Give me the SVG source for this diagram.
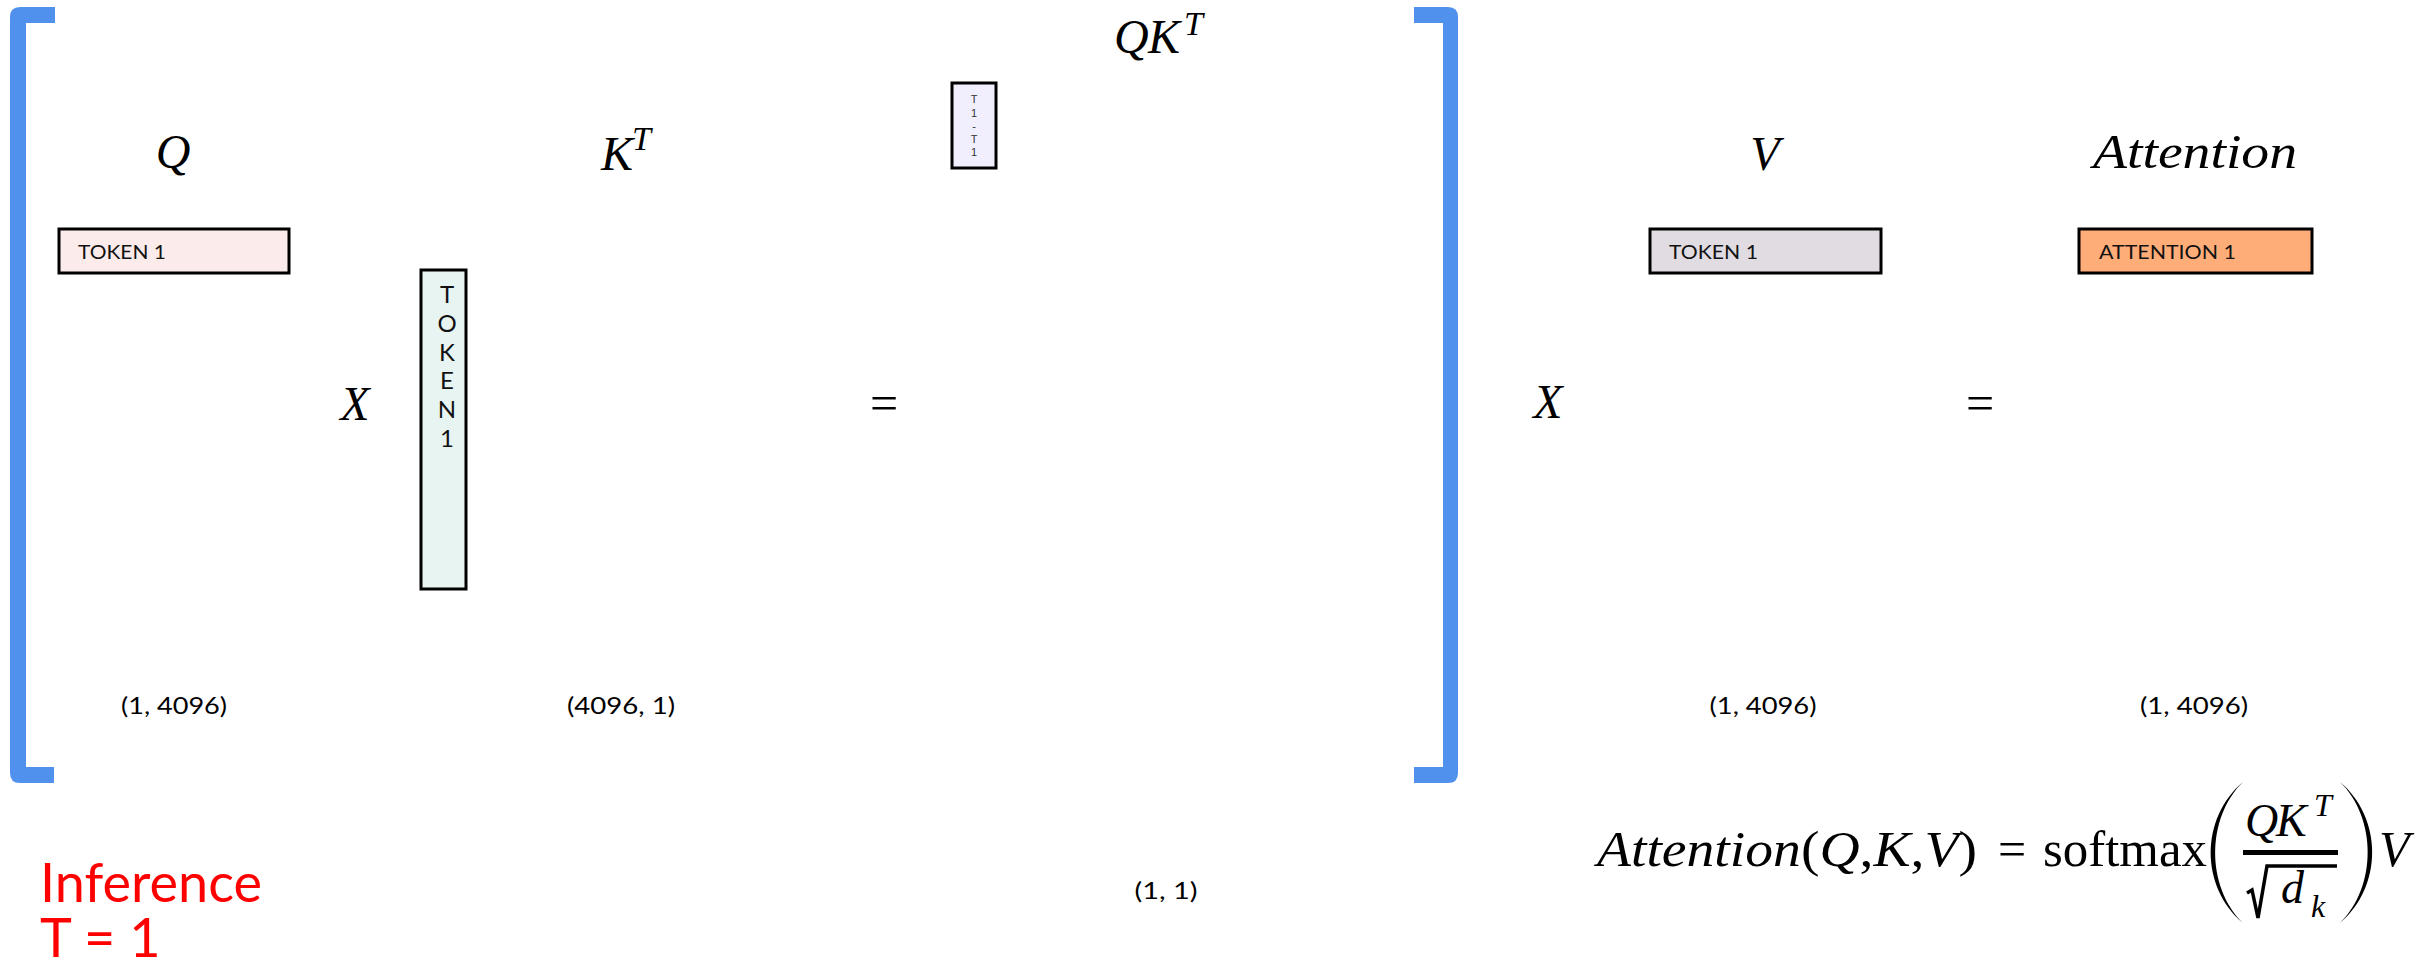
<svg xmlns="http://www.w3.org/2000/svg" width="2432" height="965" viewBox="0 0 2432 965">
<defs>
<style>
.m{font-family:"Liberation Serif","Times New Roman",serif;font-style:italic;fill:#000}
.mu{font-family:"Liberation Serif","Times New Roman",serif;font-style:normal;fill:#000}
.box{stroke:#000;stroke-width:3}
.lbl{font-family:Lato,"Noto Sans",sans-serif;font-size:20px;fill:#111}
.dim{font-family:Lato,"Noto Sans",sans-serif;font-size:23px;fill:#000;text-anchor:middle}
.vt{font-family:Lato,"Noto Sans",sans-serif;font-size:24px;fill:#111;text-anchor:middle}
.st{font-family:"Liberation Sans",Arial,sans-serif;font-size:11px;fill:#333;text-anchor:middle}
.br{fill:#5091EE}
.red{font-family:Lato,"Noto Sans",sans-serif;font-size:54px;fill:#FF0000}
</style>
</defs>
<rect width="2432" height="965" fill="#fff"/>

<g id="bracket-left">
<path class="br" d="M55 7 L20 7 Q10 7 10 17 L10 773 Q10 783 20 783 L54 783 L54 767 L26 767 L26 23 L55 23 Z"/>
</g>
<g id="bracket-right">
<path class="br" d="M1414 7 L1448 7 Q1458 7 1458 17 L1458 773 Q1458 783 1448 783 L1414 783 L1414 767 L1443 767 L1443 23 L1414 23 Z"/>
</g>

<g id="q">
<text class="m" x="173" y="168" font-size="48" text-anchor="middle">Q</text>
<rect class="box" x="59" y="229" width="230" height="44" fill="#FBECEB"/>
<text class="lbl" x="78" y="259" textLength="88" lengthAdjust="spacingAndGlyphs">TOKEN 1</text>
<text class="dim" x="174" y="714" textLength="106" lengthAdjust="spacingAndGlyphs">(1, 4096)</text>
</g>

<g id="op-x1"><text class="m" x="355" y="420" font-size="48" text-anchor="middle">X</text></g>

<g id="kt">
<text class="m" x="601" y="170" font-size="48">K</text>
<text class="m" x="632" y="150" font-size="34">T</text>
<rect class="box" x="421" y="270" width="45" height="319" fill="#E8F4F1"/>
<text class="vt" x="447" y="303">T</text>
<text class="vt" x="447" y="332">O</text>
<text class="vt" x="447" y="361">K</text>
<text class="vt" x="447" y="389">E</text>
<text class="vt" x="447" y="418">N</text>
<text class="vt" x="447" y="447">1</text>
<text class="dim" x="621" y="714" textLength="108" lengthAdjust="spacingAndGlyphs">(4096, 1)</text>
</g>

<g id="op-eq1"><text class="mu" x="884" y="420" font-size="50" text-anchor="middle">=</text></g>

<g id="qkt">
<text class="m" x="1114" y="53" font-size="48">Q</text>
<text class="m" x="1148" y="53" font-size="48">K</text>
<text class="m" x="1184" y="35" font-size="34">T</text>
<rect class="box" x="952" y="83" width="44" height="85" fill="#F1EFFD"/>
<text class="st" x="974" y="103">T</text>
<text class="st" x="974" y="117">1</text>
<text class="st" x="974" y="130">-</text>
<text class="st" x="974" y="143">T</text>
<text class="st" x="974" y="156">1</text>
<text class="dim" x="1166" y="899" textLength="63" lengthAdjust="spacingAndGlyphs">(1, 1)</text>
</g>

<g id="op-x2"><text class="m" x="1548" y="418" font-size="48" text-anchor="middle">X</text></g>

<g id="v">
<text class="m" x="1765" y="170" font-size="48" text-anchor="middle">V</text>
<rect class="box" x="1650" y="229" width="231" height="44" fill="#E0DCE1"/>
<text class="lbl" x="1669" y="259" textLength="89" lengthAdjust="spacingAndGlyphs">TOKEN 1</text>
<text class="dim" x="1763" y="714" textLength="107" lengthAdjust="spacingAndGlyphs">(1, 4096)</text>
</g>

<g id="op-eq2"><text class="mu" x="1980" y="420" font-size="50" text-anchor="middle">=</text></g>

<g id="attention">
<text class="m" x="2093" y="168" font-size="48" textLength="204" lengthAdjust="spacingAndGlyphs">Attention</text>
<rect class="box" x="2079" y="229" width="233" height="44" fill="#FFAD78"/>
<text class="lbl" x="2099" y="259" textLength="137" lengthAdjust="spacingAndGlyphs">ATTENTION 1</text>
<text class="dim" x="2194" y="714" textLength="108" lengthAdjust="spacingAndGlyphs">(1, 4096)</text>
</g>

<g id="formula">
<text class="m" x="1597" y="866" font-size="50" textLength="380" lengthAdjust="spacingAndGlyphs">Attention<tspan class="mu">(</tspan>Q<tspan class="mu">,</tspan>K<tspan class="mu">,</tspan>V<tspan class="mu">)</tspan></text>
<text class="mu" x="2012" y="866" font-size="50" text-anchor="middle">=</text>
<text class="mu" x="2043" y="866" font-size="50" textLength="164" lengthAdjust="spacingAndGlyphs">softmax</text>
<path d="M2243 782 C2200 818 2200 887 2243 923 C2206 887 2206 818 2243 782 Z" fill="#000"/>
<text class="m" x="2245" y="836" font-size="46">Q</text>
<text class="m" x="2276" y="836" font-size="46">K</text>
<text class="m" x="2314" y="816" font-size="32">T</text>
<rect x="2243" y="850" width="95" height="5" fill="#000"/>
<path d="M2247 893 L2252 890 L2258 918 L2267 866 L2337 866" fill="none" stroke="#000" stroke-width="3.5" stroke-linejoin="miter"/>
<text class="m" x="2281" y="903" font-size="46">d</text>
<text class="m" x="2311" y="917" font-size="32">k</text>
<path d="M2340 782 C2383 818 2383 887 2340 923 C2377 887 2377 818 2340 782 Z" fill="#000"/>
<text class="m" x="2379" y="866" font-size="50">V</text>
</g>

<g id="inference">
<text class="red"><tspan x="40" y="902">Inference</tspan><tspan x="40" y="957">T = 1</tspan></text>
</g>

<g id="connectors"></g>
</svg>
